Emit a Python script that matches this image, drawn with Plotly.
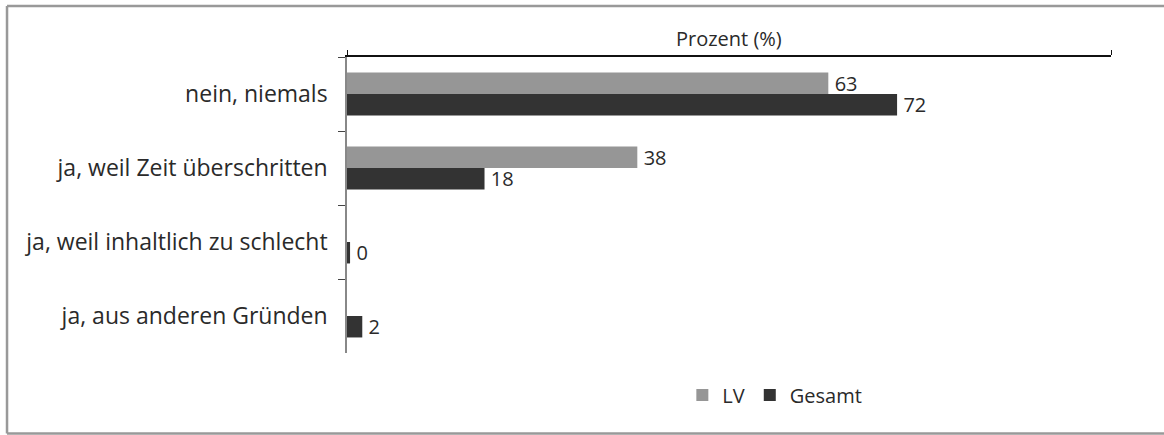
import plotly.graph_objects as go

categories = ["nein, niemals", "ja, weil Zeit überschritten",
              "ja, weil inhaltlich zu schlecht", "ja, aus anderen Gründen"]
lv_values = [63, 38, None, None]
gesamt_values = [72, 18, 0.4, 2]
lv_name = "LV"
gesamt_name = "Gesamt"
axis_title = "Prozent (%)"

FONT = "Open Sans"
TXT = "#2a2a2a"

fig = go.Figure()
fig.add_trace(go.Bar(
    y=categories, x=lv_values, orientation="h", name=lv_name,
    marker=dict(color="#969696", line=dict(width=0)),
    texttemplate="\u2009%{x:.0f}", textposition="outside", constraintext="none",
    textfont=dict(family=FONT, size=20, color=TXT), cliponaxis=False,
))
fig.add_trace(go.Bar(
    y=categories, x=gesamt_values, orientation="h", name=gesamt_name,
    marker=dict(color="#333333", line=dict(width=0)),
    texttemplate="\u2009%{x:.0f}", textposition="outside", constraintext="none",
    textfont=dict(family=FONT, size=20, color=TXT), cliponaxis=False,
))

fig.update_layout(
    width=1164, height=435,
    margin=dict(l=347, r=53, t=57, b=82),
    paper_bgcolor="white", plot_bgcolor="white",
    barmode="group", bargap=0.42, bargroupgap=0,
    font=dict(family=FONT, color=TXT),
    showlegend=True,
    legend=dict(orientation="h", x=0.56, y=-0.142, xanchor="center", yanchor="middle",
                font=dict(family=FONT, size=20, color=TXT),
                itemwidth=30, traceorder="normal", tracegroupgap=0),
    xaxis=dict(side="top", range=[0, 100], showgrid=False, zeroline=False,
               showline=True, linecolor="#111111", linewidth=1.5,
               tickvals=[0, 100], ticks="outside", ticklen=5, tickcolor="#111111",
               showticklabels=False),
    yaxis=dict(autorange="reversed", showgrid=False, zeroline=False,
               showline=True, linecolor="#888888", linewidth=1.5,
               ticks="outside", ticklen=7, tickcolor="#444444", tickson="boundaries",
               ticklabelstandoff=13,
               tickfont=dict(family=FONT, size=23, color=TXT)),
)

# axis title placed just above the top axis line
fig.add_annotation(text=axis_title, xref="paper", yref="paper", x=0.5, y=1.064,
                   xanchor="center", yanchor="middle", showarrow=False,
                   font=dict(family=FONT, size=20, color=TXT))

border = dict(color="#999999", width=2.5)
x_left, x_right, y_bot, y_top = -0.445, 1.2, -0.272, 1.172
for x0, y0, x1, y1 in [(x_left, y_top, x_right, y_top),
                       (x_left, y_bot, x_right, y_bot),
                       (x_left, y_bot, x_left, y_top)]:
    fig.add_shape(type="line", xref="paper", yref="paper",
                  x0=x0, y0=y0, x1=x1, y1=y1, line=border, layer="below")

fig.write_html("out.html", config={"displayModeBar": False},
               post_script="document.body.style.margin='0px';document.body.style.padding='0px';")
